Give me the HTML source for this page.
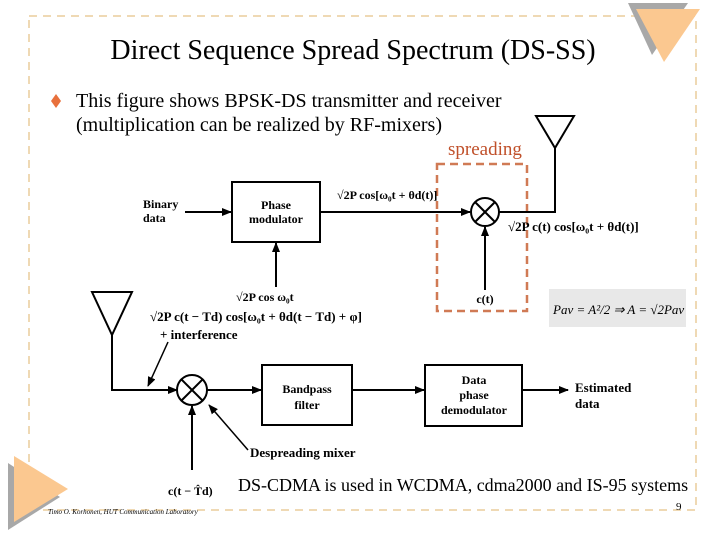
<!DOCTYPE html>
<html><head><style>
html,body{margin:0;padding:0;background:#fff;}
svg{display:block;}
text{font-family:"Liberation Serif","Times New Roman",serif;}
</style></head><body>
<svg width="720" height="540" viewBox="0 0 720 540" xmlns="http://www.w3.org/2000/svg">
<defs><marker id="a" markerWidth="10" markerHeight="8" refX="9" refY="4" orient="auto" markerUnits="userSpaceOnUse"><path d="M0,0 L10,4 L0,8 Z" fill="#000"/></marker></defs>
<rect x="29" y="16" width="667" height="494" fill="none" stroke="#efd9b4" stroke-width="2" stroke-dasharray="8,6"/>
<polygon points="628,3 688,3 652,55" fill="#a8a8a8"/>
<polygon points="636,9 700,9 664,62" fill="#fbc890"/>
<polygon points="8,463 8,530 60,497" fill="#a8a8a8"/>
<polygon points="14,456 14,522 68,489" fill="#fbc890"/>
<g fill="#000">
<text x="353" y="59" font-size="28" text-anchor="middle">Direct Sequence Spread Spectrum (DS-SS)</text>
<text x="76" y="107" font-size="20">This figure shows BPSK-DS transmitter and receiver</text>
<text x="76" y="131" font-size="20">(multiplication can be realized by RF-mixers)</text>
</g>
<polygon points="56,94 61,101 56,108 51,101" fill="#e8703c"/>
<text x="448" y="155" font-size="19" fill="#c0502a">spreading</text>
<rect x="437" y="164" width="90" height="147" fill="none" stroke="#d07a55" stroke-width="2.5" stroke-dasharray="8,5"/>
<g stroke="#000" stroke-width="2" fill="none">
<line x1="185" y1="212" x2="231" y2="212" marker-end="url(#a)"/>
<rect x="232" y="182" width="88" height="60"/>
<line x1="320" y1="212" x2="470" y2="212" marker-end="url(#a)"/>
<circle cx="485" cy="212" r="14"/>
<line x1="475" y1="202" x2="495" y2="222"/><line x1="495" y1="202" x2="475" y2="222"/>
<polyline points="499,212 555,212 555,148"/>
<polygon points="536,116 574,116 555,148"/>
<line x1="485" y1="290" x2="485" y2="227" marker-end="url(#a)"/>
<line x1="276" y1="287" x2="276" y2="243" marker-end="url(#a)"/>
<polygon points="92,292 132,292 112,335"/>
<polyline points="112,335 112,390 177,390" marker-end="url(#a)"/>
<line x1="168" y1="342" x2="148" y2="386" stroke-width="1.5" marker-end="url(#a)"/>
<circle cx="192" cy="390" r="15"/>
<line x1="181" y1="379" x2="203" y2="401"/><line x1="203" y1="379" x2="181" y2="401"/>
<line x1="207" y1="390" x2="261" y2="390" marker-end="url(#a)"/>
<rect x="262" y="365" width="90" height="60"/>
<line x1="352" y1="390" x2="424" y2="390" marker-end="url(#a)"/>
<rect x="425" y="365" width="97" height="61"/>
<line x1="522" y1="390" x2="568" y2="390" marker-end="url(#a)"/>
<line x1="192" y1="470" x2="192" y2="406" marker-end="url(#a)"/>
<line x1="248" y1="450" x2="209" y2="405" stroke-width="1.5" marker-end="url(#a)"/>
</g>
<g fill="#000" font-size="12" font-weight="bold">
<text x="143" y="208">Binary</text><text x="143" y="222">data</text>
<text x="276" y="209" text-anchor="middle">Phase</text><text x="276" y="223" text-anchor="middle">modulator</text>
<text x="337" y="199">√2P cos[ω₀t + θd(t)]</text>
<text x="508" y="231" font-size="13">√2P c(t) cos[ω₀t + θd(t)]</text>
<text x="485" y="303" text-anchor="middle">c(t)</text>
<text x="236" y="301">√2P cos ω₀t</text>
<text x="150" y="321" font-size="13">√2P c(t − Td) cos[ω₀t + θd(t − Td) + φ]</text>
<text x="160" y="339" font-size="13">+ interference</text>
<text x="307" y="393" text-anchor="middle">Bandpass</text><text x="307" y="409" text-anchor="middle">filter</text>
<text x="474" y="384" text-anchor="middle">Data</text><text x="474" y="399" text-anchor="middle">phase</text><text x="474" y="414" text-anchor="middle">demodulator</text>
<text x="575" y="392" font-size="13">Estimated</text><text x="575" y="408" font-size="13">data</text>
<text x="250" y="457" font-size="13">Despreading mixer</text>
<text x="168" y="495">c(t − T̂d)</text>
</g>
<rect x="549" y="289" width="137" height="38" fill="#e8e8e8"/>
<text x="553" y="314" font-size="13" font-style="italic" fill="#000">Pav = A²/2 ⇒ A = √2Pav</text>
<text x="238" y="491" font-size="18" fill="#000">DS-CDMA is used in WCDMA, cdma2000 and IS-95 systems</text>
<text x="48" y="514" font-size="7" font-style="italic" fill="#000">Timo O. Korhonen, HUT Communication Laboratory</text>
<text x="676" y="510" font-size="11" fill="#000">9</text>
</svg>
</body></html>
